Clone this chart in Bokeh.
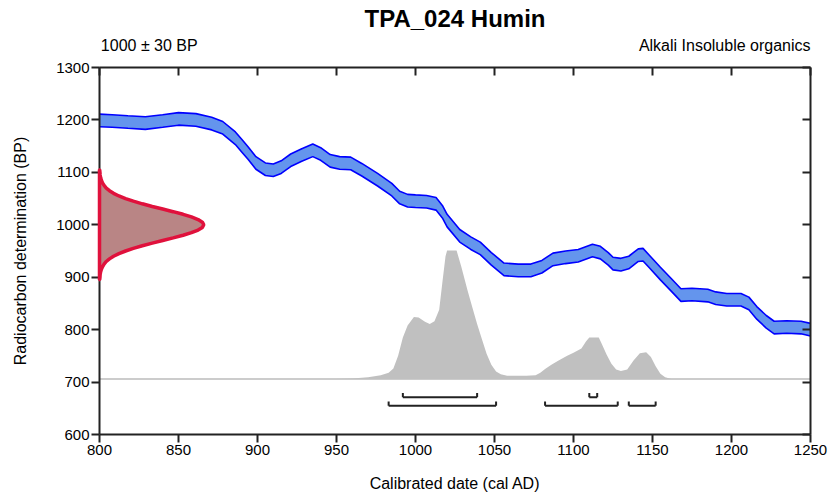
from bokeh.plotting import figure
from bokeh.models import LinearAxis, FixedTicker, Range1d
from bokeh.embed import file_html
from bokeh.resources import INLINE

# ---- data ----
TITLE = "TPA_024 Humin"
SUB_LEFT = "1000 \u00b1 30 BP"
SUB_RIGHT = "Alkali Insoluble organics"
X_LABEL = "Calibrated date (cal AD)"
Y_LABEL = "Radiocarbon determination (BP)"

X_TICKS = [800, 850, 900, 950, 1000, 1050, 1100, 1150, 1200, 1250]
Y_TICKS = [600, 700, 800, 900, 1000, 1100, 1200, 1300]

# calibration curve (centre, BP) and 1-sigma half width
CURVE_YEARS = [800, 808, 818, 829, 840, 850, 861, 871, 878, 886, 890, 894, 899, 905, 910,
               915, 921, 928, 935, 940, 946, 952, 959, 966, 976, 985, 990, 995, 1000,
               1007, 1013, 1017, 1020, 1028, 1035, 1041, 1048, 1056, 1065, 1073, 1080,
               1087, 1095, 1103, 1112, 1117, 1122, 1125, 1130, 1135, 1141, 1144, 1148,
               1155, 1162, 1168, 1175, 1185, 1190, 1197, 1206, 1211, 1216, 1222, 1227,
               1235, 1244, 1250]
CURVE_BP = [1199, 1198, 1196, 1194, 1198, 1202, 1200, 1193, 1185, 1165, 1151, 1137, 1118,
            1106, 1104, 1110, 1123, 1133, 1142, 1135, 1122, 1118, 1117, 1105, 1086, 1067,
            1052, 1046, 1045, 1044, 1040, 1025, 1008, 979, 965, 955, 935, 915, 913, 913,
            920, 934, 938, 941, 951, 947, 935, 926, 924, 928, 942, 943, 930, 907, 885, 866,
            867, 865, 860, 857, 857, 850, 832, 815, 804, 805, 804, 800]
CURVE_ERR = 12

# radiocarbon measurement distribution (BP vs. width in years)
MEAS_BP = [895, 900, 905, 910, 915, 920, 925, 930, 935, 940, 945, 950, 955, 960, 965, 970,
           975, 980, 985, 990, 995, 1000, 1005, 1010, 1015, 1020, 1025, 1030, 1035, 1040,
           1045, 1050, 1055, 1060, 1065, 1070, 1075, 1080, 1085, 1090, 1095, 1100, 1105]
MEAS_W = [0.1, 0.3, 0.4, 0.7, 1.2, 1.9, 2.9, 4.3, 6.3, 8.9, 12.3, 16.5, 21.4, 27.1, 33.4,
          40.0, 46.6, 52.9, 58.2, 62.4, 65.1, 66.0, 65.1, 62.4, 58.2, 52.9, 46.6, 40.0,
          33.4, 27.1, 21.4, 16.5, 12.3, 8.9, 6.3, 4.3, 2.9, 1.9, 1.2, 0.7, 0.4, 0.3, 0.1]

# calibrated probability distribution (top edge in BP above baseline)
DIST_BASE = 706
DIST_YEARS = [950, 960, 970, 978, 983, 986, 989, 992, 995, 999, 1002, 1006, 1009, 1012,
              1015, 1017, 1019, 1020, 1026, 1029, 1033, 1036, 1039, 1042, 1045, 1048, 1051,
              1054, 1058, 1070, 1076, 1079, 1082, 1086, 1090, 1096, 1100, 1105, 1108, 1110,
              1116, 1118, 1121, 1124, 1127, 1130, 1134, 1138, 1142, 1146, 1149, 1152, 1155,
              1158, 1162]
DIST_TOP = [706, 707, 709, 713, 718, 726, 750, 785, 808, 824, 823, 815, 811, 816, 838, 890,
            940, 951, 951, 920, 874, 842, 811, 782, 754, 733, 720, 715, 712, 712, 713, 718,
            725, 733, 740, 750, 756, 764, 778, 785, 785, 772, 752, 735, 724, 721, 724, 741,
            755, 757, 748, 730, 716, 709, 706]

# highest probability ranges
R68_FROM = [992, 1110]
R68_TO = [1039, 1115]
R95_FROM = [983, 1082, 1135]
R95_TO = [1051, 1128, 1152]

# where the two header texts sit (centre of each text, in cal AD)
SUB_POS = [831.5, 1195.7]

FONT = "Liberation Sans"

p = figure(width=829, height=494, x_range=Range1d(800, 1250), y_range=Range1d(600, 1300),
           output_backend="svg", toolbar_location=None,
           min_border_left=99, min_border_right=19, min_border_top=67, min_border_bottom=60,
           x_axis_label=X_LABEL, y_axis_label=Y_LABEL)
p.grid.visible = False
p.outline_line_color = None
p.background_fill_color = "white"
p.border_fill_color = "white"

# baseline
p.line(x=[800, 1250], y=[DIST_BASE, DIST_BASE], line_color="#cccccc", line_width=2)
# calibrated distribution
p.varea(x=DIST_YEARS, y1=[DIST_BASE] * len(DIST_YEARS), y2=DIST_TOP, fill_color="#c0c0c0")

# calibration curve band
lower = [b - CURVE_ERR for b in CURVE_BP]
upper = [b + CURVE_ERR for b in CURVE_BP]
p.varea(x=CURVE_YEARS, y1=lower, y2=upper, fill_color="#6495ed")
p.line(x=CURVE_YEARS, y=upper, line_color="#0000ff", line_width=1.6)
p.line(x=CURVE_YEARS, y=lower, line_color="#0000ff", line_width=1.6)

# measurement distribution
mx = [800] + [800 + w for w in MEAS_W] + [800]
my = [MEAS_BP[0]] + MEAS_BP + [MEAS_BP[-1]]
p.patch(x=mx, y=my, fill_color="#b98585", line_color="#e0113c", line_width=3.5,
        level="overlay")

# range brackets
def brackets(froms, tos, level):
    p.segment(x0=froms, y0=[level] * len(froms), x1=tos, y1=[level] * len(froms),
              line_color="#222222", line_width=2)
    ends = froms + tos
    p.segment(x0=ends, y0=[level] * len(ends), x1=ends, y1=[level + 8] * len(ends),
              line_color="#222222", line_width=2)

brackets(R68_FROM, R68_TO, 671)
brackets(R95_FROM, R95_TO, 655)

# axes styling
def style_axis(ax, tick_in, tick_out, labels=True):
    ax.axis_line_width = 2
    ax.axis_line_color = "#222222"
    ax.major_tick_line_width = 2
    ax.major_tick_line_color = "#222222"
    ax.major_tick_in = tick_in
    ax.major_tick_out = tick_out
    ax.minor_tick_line_color = None
    ax.major_label_text_font = FONT
    ax.major_label_text_color = "black"
    ax.major_label_text_font_size = "15px"
    ax.major_label_standoff = 2
    if not labels:
        ax.major_label_overrides = {t: "" for t in ax.ticker.ticks}
        ax.major_label_standoff = 0
    ax.axis_label_text_font = FONT
    ax.axis_label_text_font_size = "16px"
    ax.axis_label_text_font_style = "normal"
    ax.axis_label_text_color = "black"

xa = p.xaxis[0]
xa.ticker = FixedTicker(ticks=X_TICKS)
style_axis(xa, 0, 8)
xa.axis_label_standoff = 17

ya = p.yaxis[0]
ya.ticker = FixedTicker(ticks=Y_TICKS)
style_axis(ya, 0, 8)
ya.axis_label_standoff = 24

top = LinearAxis(ticker=FixedTicker(ticks=X_TICKS))
style_axis(top, 8, 0, labels=False)
p.add_layout(top, "above")

right = LinearAxis(ticker=FixedTicker(ticks=Y_TICKS))
style_axis(right, 8, 0, labels=False)
p.add_layout(right, "right")

# header texts carried by a tick-less top axis
head = LinearAxis(ticker=FixedTicker(ticks=SUB_POS),
                  major_label_overrides={SUB_POS[0]: SUB_LEFT, SUB_POS[1]: SUB_RIGHT})
head.axis_line_color = None
head.major_tick_line_color = None
head.major_tick_in = 0
head.major_tick_out = 0
head.minor_tick_line_color = None
head.major_label_text_font = FONT
head.major_label_text_font_size = "16px"
head.major_label_text_color = "black"
head.major_label_standoff = 14
p.add_layout(head, "above")

p.title.text = TITLE
p.title.align = "center"
p.title.vertical_align = "top"
p.title.text_font = FONT
p.title.text_font_size = "24px"
p.title.text_font_style = "bold"
p.title.text_color = "black"
p.title.standoff = 0

open("out.html", "w").write(file_html(p, INLINE))
